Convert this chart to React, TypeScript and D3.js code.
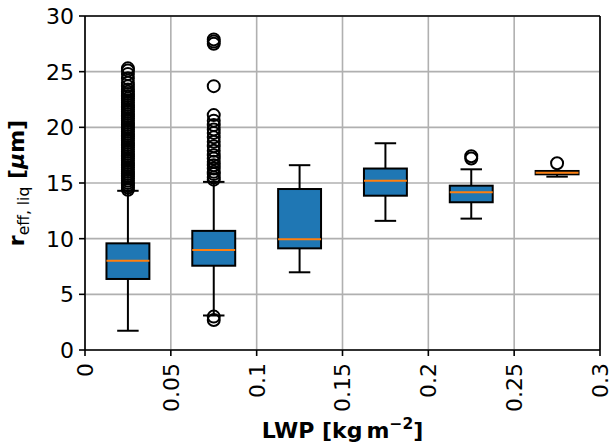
import React from "react";
import * as d3 from "d3";

const centers = [0.025, 0.075, 0.125, 0.175, 0.225, 0.275];
const whiskerLow = [1.73, 3.1, 6.98, 11.6, 11.8, 15.57];
const q1 = [6.38, 7.57, 9.13, 13.86, 13.27, 15.78];
const medians = [8.02, 8.98, 9.94, 15.2, 14.17, 15.93];
const q3 = [9.58, 10.7, 14.46, 16.3, 14.76, 16.08];
const whiskerHigh = [14.3, 15.1, 16.6, 18.57, 16.23, 16.08];
const outliers1 = [14.4, 14.6, 14.8, 15.0, 15.2, 15.4, 15.6, 15.8, 16.0, 16.2, 16.4, 16.6, 16.8, 17.0, 17.2, 17.4, 17.6, 17.8, 18.0, 18.2, 18.4, 18.6, 18.8, 19.0, 19.2, 19.4, 19.6, 19.8, 20.0, 20.2, 20.4, 20.6, 20.8, 21.0, 21.2, 21.4, 21.6, 21.8, 22.0, 22.2, 22.4, 22.6, 22.8, 23.0, 23.2, 23.4, 23.7, 24.0, 24.4, 24.8, 25.1, 25.3];
const outliers2 = [2.7, 3.0, 15.3, 15.5, 15.8, 16.0, 16.3, 16.6, 16.9, 17.2, 17.5, 17.9, 18.3, 18.7, 19.1, 19.5, 19.8, 20.2, 20.6, 21.1, 23.7, 27.5, 27.7, 27.9];
const outliers3: number[] = [];
const outliers4: number[] = [];
const outliers5 = [17.2, 17.4];
const outliers6 = [16.77];
const outliers = [outliers1, outliers2, outliers3, outliers4, outliers5, outliers6];
const boxWidth = 0.025;

const xTicks = [0, 0.05, 0.1, 0.15, 0.2, 0.25, 0.3];
const xTickLabels = ["0", "0.05", "0.1", "0.15", "0.2", "0.25", "0.3"];
const yTicks = [0, 5, 10, 15, 20, 25, 30];

const W = 609, H = 444;
const L = 85, R = 600, T = 16, B = 350;

export default function App() {
  const x = d3.scaleLinear().domain([0, 0.3]).range([L, R]);
  const y = d3.scaleLinear().domain([0, 30]).range([B, T]);
  const font = "DejaVu Sans, sans-serif";
  const fs = 22;
  const sub = 15.5;
  return (
    <svg width={W} height={H} style={{ position: "absolute", left: 0, top: 0, background: "#fff" }} fontFamily={font}>
      <rect x={0} y={0} width={W} height={H} fill="#fff" />
      {xTicks.map((t, i) => (
        <line key={"gx" + i} x1={x(t)} x2={x(t)} y1={T} y2={B} stroke="#b0b0b0" strokeWidth={1.6} />
      ))}
      {yTicks.map((t, i) => (
        <line key={"gy" + i} x1={L} x2={R} y1={y(t)} y2={y(t)} stroke="#b0b0b0" strokeWidth={1.6} />
      ))}
      {centers.map((c, i) => {
        const x0 = x(c - boxWidth / 2), x1 = x(c + boxWidth / 2);
        const cx = x(c);
        const cw = (x1 - x0) / 4;
        return (
          <g key={"b" + i}>
            <line x1={cx} x2={cx} y1={y(q1[i])} y2={y(whiskerLow[i])} stroke="#000" strokeWidth={2} />
            <line x1={cx} x2={cx} y1={y(q3[i])} y2={y(whiskerHigh[i])} stroke="#000" strokeWidth={2} />
            <line x1={cx - cw} x2={cx + cw} y1={y(whiskerLow[i])} y2={y(whiskerLow[i])} stroke="#000" strokeWidth={2} />
            <line x1={cx - cw} x2={cx + cw} y1={y(whiskerHigh[i])} y2={y(whiskerHigh[i])} stroke="#000" strokeWidth={2} />
            <rect x={x0} y={y(q3[i])} width={x1 - x0} height={y(q1[i]) - y(q3[i])} fill="#1f77b4" stroke="#000" strokeWidth={2} />
            <line x1={x0} x2={x1} y1={y(medians[i])} y2={y(medians[i])} stroke="#ff7f0e" strokeWidth={2} />
            {outliers[i].map((v, j) => (
              <circle key={j} cx={cx} cy={y(v)} r={6} fill="none" stroke="#000" strokeWidth={2} />
            ))}
          </g>
        );
      })}
      <line x1={L} x2={L} y1={T} y2={B} stroke="#000" strokeWidth={1.6} />
      <line x1={R} x2={R} y1={T} y2={B} stroke="#000" strokeWidth={1.6} />
      <line x1={L} x2={R} y1={T} y2={T} stroke="#000" strokeWidth={1.6} />
      <line x1={L} x2={R} y1={B} y2={B} stroke="#000" strokeWidth={1.6} />
      {yTicks.map((t, i) => (
        <g key={"yt" + i}>
          <line x1={L - 6} x2={L} y1={y(t)} y2={y(t)} stroke="#000" strokeWidth={1.6} />
          <text x={L - 11} y={y(t)} dy="0.36em" textAnchor="end" fontSize={fs} fill="#000">{t}</text>
        </g>
      ))}
      {xTicks.map((t, i) => (
        <g key={"xt" + i}>
          <line x1={x(t)} x2={x(t)} y1={B} y2={B + 6} stroke="#000" strokeWidth={1.6} />
          <text transform={`translate(${x(t)},${B + 13}) rotate(-90)`} dy="0.36em" textAnchor="end" fontSize={fs} fill="#000">{xTickLabels[i]}</text>
        </g>
      ))}
      <text x={(L + R) / 2} y={438} textAnchor="middle" fontSize={fs} fontWeight="bold" fill="#000">
        LWP [kg<tspan dx={4}>m</tspan><tspan dy={-9} fontSize={sub}>−2</tspan><tspan dy={9}>]</tspan>
      </text>
      <text transform={`translate(24,${(T + B) / 2}) rotate(-90)`} textAnchor="middle" fontSize={fs} fontWeight="bold" fill="#000">
        r<tspan dy={5} fontSize={sub} fontWeight="normal">eff, liq</tspan><tspan dy={-5}> [</tspan><tspan fontStyle="italic">μ</tspan>m]
      </text>
    </svg>
  );
}
